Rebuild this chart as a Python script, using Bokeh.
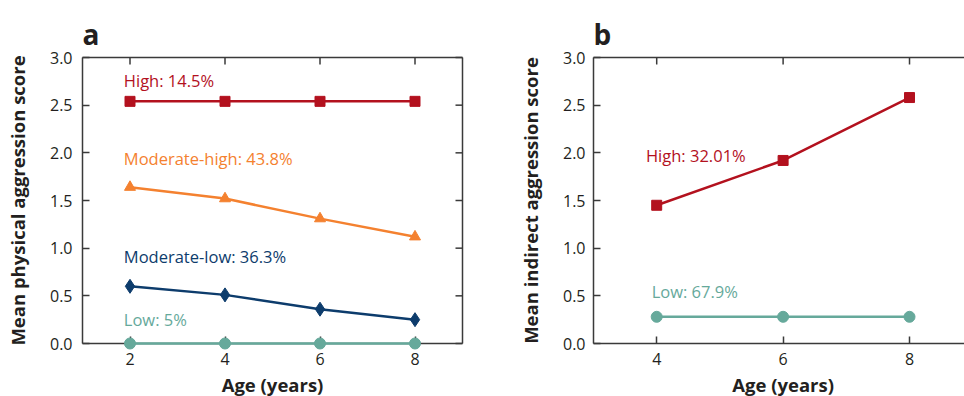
from bokeh.plotting import figure
from bokeh.models import Range1d, FixedTicker, LinearAxis, ColumnDataSource, NumeralTickFormatter
from bokeh.layouts import row
from bokeh.embed import file_html
from bokeh.resources import INLINE
from bokeh.core.properties import value

# ---- data ----
ages_a = [2, 4, 6, 8]
high_a = [2.54, 2.54, 2.54, 2.54]
modhigh_a = [1.64, 1.52, 1.31, 1.12]
modlow_a = [0.60, 0.51, 0.36, 0.25]
low_a = [0.0, 0.0, 0.0, 0.0]

ages_b = [4, 6, 8]
high_b = [1.45, 1.92, 2.58]
low_b = [0.28, 0.28, 0.28]

labels_a = ["High: 14.5%", "Moderate-high: 43.8%", "Moderate-low: 36.3%", "Low: 5%"]
label_x_a = [1.87, 1.87, 1.87, 1.87]
label_y_a = [2.76, 1.94, 0.91, 0.25]

labels_b = ["High: 32.01%", "Low: 67.9%"]
label_x_b = [3.83, 3.92]
label_y_b = [1.97, 0.55]

y_ticks = [0, 0.5, 1.0, 1.5, 2.0, 2.5, 3.0]

RED = "#B3111E"
ORANGE = "#F4812F"
NAVY = "#0D3C6C"
TEAL = "#66A99B"
AXC = "#3a3a3a"
TXT = "#231F20"
FONT = "Open Sans"

FIG_H = 396
TOP = 57
FRAME_H = 286
Y0, Y1 = 0.0, 3.0


def style_axis(ax):
    ax.axis_line_color = AXC
    ax.axis_line_width = 1.5
    ax.major_tick_line_color = AXC
    ax.major_tick_line_width = 1.5
    ax.major_tick_in = 7
    ax.major_tick_out = 0
    ax.minor_tick_line_color = None
    ax.major_label_text_font = FONT
    ax.major_label_text_color = TXT
    ax.major_label_text_font_size = "16px"
    ax.axis_label_text_font = FONT
    ax.axis_label_text_font_style = "bold"
    ax.axis_label_text_font_size = "18.5px"
    ax.axis_label_text_color = TXT


def make_fig(width, min_left, min_right, xr, xticks, ylabel, right_side, ystand):
    p = figure(width=width, height=FIG_H, x_range=Range1d(*xr), y_range=Range1d(Y0, Y1),
               output_backend="svg", toolbar_location=None,
               min_border_left=min_left, min_border_right=min_right,
               min_border_top=TOP, min_border_bottom=FIG_H - TOP - FRAME_H,
               x_axis_location=None, y_axis_location=None)
    p.grid.visible = False
    p.background_fill_color = "white"
    p.border_fill_color = "white"
    p.outline_line_color = None

    bx = LinearAxis(ticker=FixedTicker(ticks=xticks))
    style_axis(bx)
    bx.major_label_standoff = 9
    p.add_layout(bx, "below")

    ly = LinearAxis(ticker=FixedTicker(ticks=y_ticks), axis_label=ylabel,
                    formatter=NumeralTickFormatter(format="0.0"))
    style_axis(ly)
    ly.major_label_standoff = ystand
    ly.axis_label_standoff = 17
    p.add_layout(ly, "left")

    frame_w = width - min_left - min_right
    dy = (Y1 - Y0) / FRAME_H          # data units per pixel (y)
    dx = (xr[1] - xr[0]) / frame_w    # data units per pixel (x)

    # top edge with inward ticks
    r = p.line([xr[0], xr[1]], [Y1, Y1], line_color=AXC, line_width=1.5)
    r.level = "overlay"
    r = p.segment(x0=xticks, y0=[Y1] * len(xticks), x1=xticks,
                  y1=[Y1 - 7 * dy] * len(xticks), line_color=AXC, line_width=1.5)
    r.level = "overlay"
    if right_side:
        r = p.line([xr[1], xr[1]], [Y0, Y1], line_color=AXC, line_width=1.5)
        r.level = "overlay"
        r = p.segment(x0=[xr[1]] * len(y_ticks), y0=y_ticks,
                      x1=[xr[1] - 7 * dx] * len(y_ticks), y1=y_ticks,
                      line_color=AXC, line_width=1.5)
        r.level = "overlay"
    return p, dx, dy


def add_series(p, x, y, color, marker, size):
    r = p.line(x, y, line_color=color, line_width=2.5)
    r.level = "overlay"
    m = p.scatter(x, y, marker=marker, size=size, fill_color=color, line_color=color)
    m.level = "overlay"


def add_labels(p, xs, ys, texts, colors):
    src = ColumnDataSource(dict(x=xs, y=ys, t=texts, c=colors))
    r = p.text(x="x", y="y", text="t", text_color="c", source=src,
               text_font=value(FONT), text_font_size="16.5px",
               text_align="left", text_baseline="middle")
    r.level = "overlay"


def add_titles(p, dy, letter, letter_x, xlabel_x):
    r = p.text(x=[letter_x], y=[Y1 + 24 * dy], text=[letter], text_font=value(FONT),
               text_font_style="bold", text_font_size="28px", text_color=TXT,
               text_align="left", text_baseline="alphabetic")
    r.level = "overlay"
    r = p.text(x=[xlabel_x], y=[Y0 - 41 * dy], text=["Age (years)"], text_font=value(FONT),
               text_font_style="bold", text_font_size="18.5px", text_color=TXT,
               text_align="center", text_baseline="middle")
    r.level = "overlay"


pa, dxa, dya = make_fig(480, 82, 18, (1, 9), ages_a, "Mean physical aggression score", True, 10)
add_series(pa, ages_a, high_a, RED, "square", 10)
add_series(pa, ages_a, modhigh_a, ORANGE, "triangle", 11)
add_series(pa, ages_a, modlow_a, NAVY, "diamond", 14)
add_series(pa, ages_a, low_a, TEAL, "circle", 11)
add_labels(pa, label_x_a, label_y_a, labels_a, [RED, ORANGE, NAVY, TEAL])
add_titles(pa, dya, "a", 1.0, 5.0)

# panel b: its frame runs on to the right edge of the picture, as in the reference
pb, dxb, dyb = make_fig(484, 113, 0, (3, 8.87), ages_b, "Mean indirect aggression score", False, 8)
add_series(pb, ages_b, high_b, RED, "square", 10)
add_series(pb, ages_b, low_b, TEAL, "circle", 11)
add_labels(pb, label_x_b, label_y_b, labels_b, [RED, TEAL])
add_titles(pb, dyb, "b", 3.0, 6.0)

layout = row(pa, pb)
open("out.html", "w").write(file_html(layout, INLINE))
